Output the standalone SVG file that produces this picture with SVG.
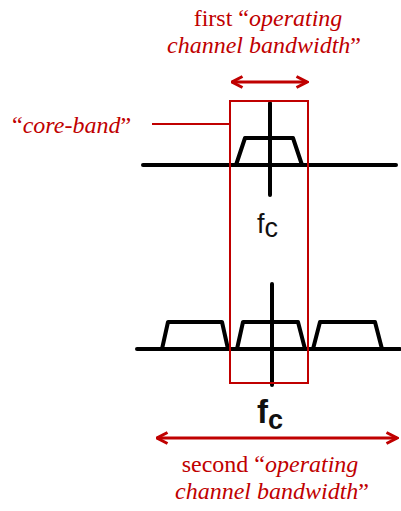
<svg xmlns="http://www.w3.org/2000/svg" width="401" height="511" viewBox="0 0 401 511">
<defs>
<style>
.lbl{font-family:"Liberation Serif",serif;font-size:24px;fill:#c00000}
.it{font-style:italic}
.fc{font-family:"Liberation Sans",Arial,sans-serif;fill:#111}
.ax{stroke:#000;stroke-width:4;fill:none;stroke-linecap:round;stroke-linejoin:round}
.red{stroke:#c00000;stroke-width:2;fill:none}
.arr{stroke:#c00000;stroke-width:3;fill:none}
</style>
<marker id="ah" viewBox="0 0 14 14" refX="12.5" refY="7" markerWidth="14" markerHeight="14" markerUnits="userSpaceOnUse" orient="auto-start-reverse">
<path d="M2,1.5 L12.5,7 L2,12.5" fill="none" stroke="#c00000" stroke-width="3" stroke-linejoin="miter"/>
</marker>
</defs>
<rect width="401" height="511" fill="#fff"/>
<g id="spectrum-top">
<path class="ax" d="M143,165 H396"/>
<path class="ax" d="M270,103 V195"/>
<path class="ax" d="M236,165 L245,138 H293 L302,165"/>
<text class="fc" x="257" y="233" font-size="27">f<tspan dy="4">c</tspan></text>
</g>
<g id="spectrum-bottom">
<path class="ax" d="M137,349 H400"/>
<path class="ax" d="M272,284 V385"/>
<path class="ax" d="M162,349 L168,322 H222 L228,349"/>
<path class="ax" d="M237,349 L243,322 H298 L305,349"/>
<path class="ax" d="M313,349 L320,322 H375 L382,349"/>
<text class="fc" x="257" y="423" font-size="33" font-weight="bold">f<tspan dy="6" font-size="27">c</tspan></text>
</g>
<g id="core-band">
<rect class="red" x="230" y="101" width="78" height="282"/>
<text class="lbl" x="12" y="133" font-size="25">“<tspan class="it">core-band</tspan>”</text>
</g>
<g id="first-bw">
<text class="lbl" x="268" y="26" text-anchor="middle">first “<tspan class="it">operating</tspan></text>
<text class="lbl" x="264" y="53" text-anchor="middle"><tspan class="it">channel bandwidth</tspan>”</text>
</g>
<g id="second-bw">
<text class="lbl" x="270" y="472" text-anchor="middle">second “<tspan class="it">operating</tspan></text>
<text class="lbl" x="272" y="499" text-anchor="middle"><tspan class="it">channel bandwidth</tspan>”</text>
</g>
<g id="connectors">
<path class="red" d="M152,124 H230"/>
<path class="arr" d="M232,82 H307" marker-start="url(#ah)" marker-end="url(#ah)"/>
<path class="arr" d="M157,438 H397" marker-start="url(#ah)" marker-end="url(#ah)"/>
</g>
</svg>
